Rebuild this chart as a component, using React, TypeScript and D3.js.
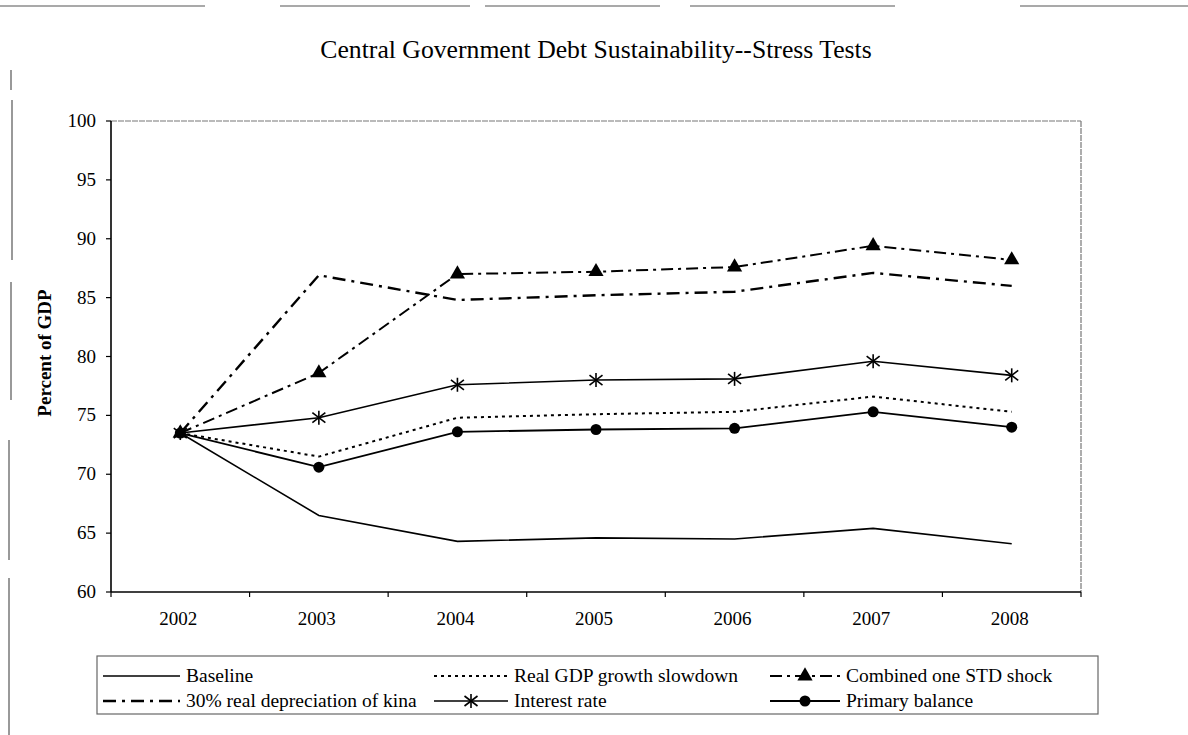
import React from "react";
import * as d3 from "d3";

const years = ["2002", "2003", "2004", "2005", "2006", "2007", "2008"];
const yTicks = [60, 65, 70, 75, 80, 85, 90, 95, 100];

const baseline = [73.5, 66.5, 64.3, 64.6, 64.5, 65.4, 64.1];
const realGdp = [73.5, 71.5, 74.8, 75.1, 75.3, 76.6, 75.3];
const combined = [73.5, 78.6, 87.0, 87.2, 87.6, 89.4, 88.2];
const depreciation = [73.5, 86.9, 84.8, 85.2, 85.5, 87.1, 86.0];
const interest = [73.5, 74.8, 77.6, 78.0, 78.1, 79.6, 78.4];
const primary = [73.5, 70.6, 73.6, 73.8, 73.9, 75.3, 74.0];

const seriesNames = [
  "Baseline",
  "Real GDP growth slowdown",
  "Combined one STD shock",
  "30% real depreciation of kina",
  "Interest rate",
  "Primary balance",
];

const FONT = '"Liberation Serif", "DejaVu Serif", "Times New Roman", Times, serif';

type Marker = "none" | "triangle" | "star" | "circle";
interface Style {
  dash: string;
  width: number;
  marker: Marker;
}

const styles: Style[] = [
  { dash: "", width: 1.6, marker: "none" },
  { dash: "3,4", width: 2, marker: "none" },
  { dash: "12,5,3,5", width: 2, marker: "triangle" },
  { dash: "13,6,3,6", width: 2.4, marker: "none" },
  { dash: "", width: 1.6, marker: "star" },
  { dash: "", width: 1.8, marker: "circle" },
];

const seriesValues = [baseline, realGdp, combined, depreciation, interest, primary];

function MarkerShape({ type, x, y }: { type: Marker; x: number; y: number }) {
  if (type === "triangle") {
    const p = d3.symbol().type(d3.symbolTriangle).size(100)();
    return <path d={p || ""} transform={`translate(${x},${y})`} fill="#000" />;
  }
  if (type === "circle") {
    return <circle cx={x} cy={y} r={5.5} fill="#000" />;
  }
  if (type === "star") {
    return (
      <g transform={`translate(${x},${y})`} stroke="#000" strokeWidth={1.6}>
        <line x1={0} y1={-7} x2={0} y2={7} />
        <line x1={-6.5} y1={-5} x2={6.5} y2={5} />
        <line x1={-6.5} y1={5} x2={6.5} y2={-5} />
      </g>
    );
  }
  return null;
}

export default function App() {
  const W = 1188;
  const H = 735;
  const left = 111;
  const right = 1081;
  const top = 121;
  const bottom = 592;

  const x = d3.scaleBand<string>().domain(years).range([left, right]);
  const y = d3.scaleLinear().domain([60, 100]).range([bottom, top]);
  const cx = (yr: string) => (x(yr) as number) + x.bandwidth() / 2;

  const line = d3
    .line<number>()
    .x((_, i) => cx(years[i]))
    .y((d) => y(d));

  const bandEdges = years.map((yr) => x(yr) as number).concat([right]);

  const legTop = 656;
  const legBottom = 714;
  const legLeft = 97;
  const legRight = 1098;
  const rowsY = [676, 701];
  const colLine = [
    [103, 180],
    [434, 508],
    [770, 840],
  ];
  const colText = [186, 514, 846];
  const legendOrder = [0, 1, 2, 3, 4, 5];

  return (
    <svg
      width={W}
      height={H}
      style={{ position: "absolute", left: 0, top: 0, background: "#fff", fontFamily: FONT }}
    >
      <rect x={0} y={0} width={W} height={H} fill="#fff" />
      <g stroke="#555" strokeWidth={1.2}>
        <line x1={0} y1={6} x2={205} y2={6} />
        <line x1={280} y1={6} x2={470} y2={6} />
        <line x1={485} y1={6} x2={660} y2={6} />
        <line x1={690} y1={6} x2={895} y2={6} />
        <line x1={1020} y1={6} x2={1188} y2={6} />
        <line x1={11} y1={70} x2={11} y2={90} />
        <line x1={12} y1={100} x2={12} y2={260} />
        <line x1={11} y1={282} x2={11} y2={400} />
        <line x1={9} y1={440} x2={9} y2={560} />
        <line x1={9} y1={578} x2={9} y2={735} />
      </g>

      <text x={596} y={58} textAnchor="middle" fontSize={25.7} style={{ fontFamily: FONT }}>
        Central Government Debt Sustainability--Stress Tests
      </text>

      <line x1={left} y1={top} x2={right} y2={top} stroke="#777" strokeWidth={1.2} strokeDasharray="6,1" />
      <line x1={right} y1={top} x2={right} y2={bottom} stroke="#777" strokeWidth={1.2} strokeDasharray="6,1" />
      <line x1={left} y1={top} x2={left} y2={bottom} stroke="#000" strokeWidth={1.6} />
      <line x1={left} y1={bottom} x2={right} y2={bottom} stroke="#000" strokeWidth={1.6} />

      {yTicks.map((t) => (
        <g key={t}>
          <line x1={left - 5} y1={y(t)} x2={left} y2={y(t)} stroke="#000" strokeWidth={1.2} />
          <text x={96} y={y(t) + 6} textAnchor="end" fontSize={19} style={{ fontFamily: FONT }}>
            {t}
          </text>
        </g>
      ))}
      {bandEdges.map((e, i) => (
        <line key={i} x1={e} y1={bottom} x2={e} y2={bottom + 5} stroke="#000" strokeWidth={1.2} />
      ))}
      {years.map((yr) => (
        <text key={yr} x={cx(yr) - 2} y={625} textAnchor="middle" fontSize={19} style={{ fontFamily: FONT }}>
          {yr}
        </text>
      ))}

      <text
        transform={`translate(51,353) rotate(-90)`}
        textAnchor="middle"
        fontSize={19}
        fontWeight="bold"
        style={{ fontFamily: FONT }}
      >
        Percent of GDP
      </text>

      {seriesValues.map((vals, si) => (
        <path
          key={si}
          d={line(vals) || ""}
          fill="none"
          stroke="#000"
          strokeWidth={styles[si].width}
          strokeDasharray={styles[si].dash}
        />
      ))}
      {seriesValues.map((vals, si) =>
        styles[si].marker === "none"
          ? null
          : vals.map((v, i) => (
              <MarkerShape key={`${si}-${i}`} type={styles[si].marker} x={cx(years[i])} y={y(v)} />
            ))
      )}

      <rect
        x={legLeft}
        y={legTop}
        width={legRight - legLeft}
        height={legBottom - legTop}
        fill="none"
        stroke="#666"
        strokeWidth={1.2}
      />
      {legendOrder.map((si, k) => {
        const row = Math.floor(k / 3);
        const col = k % 3;
        const ly = rowsY[row];
        const [x1, x2] = colLine[col];
        const st = styles[si];
        return (
          <g key={si}>
            <line
              x1={x1}
              y1={ly}
              x2={x2}
              y2={ly}
              stroke="#000"
              strokeWidth={st.width}
              strokeDasharray={st.dash}
            />
            <MarkerShape type={st.marker} x={(x1 + x2) / 2} y={ly} />
            <text x={colText[col]} y={ly + 6} fontSize={19.5} style={{ fontFamily: FONT }}>
              {seriesNames[si]}
            </text>
          </g>
        );
      })}
    </svg>
  );
}
